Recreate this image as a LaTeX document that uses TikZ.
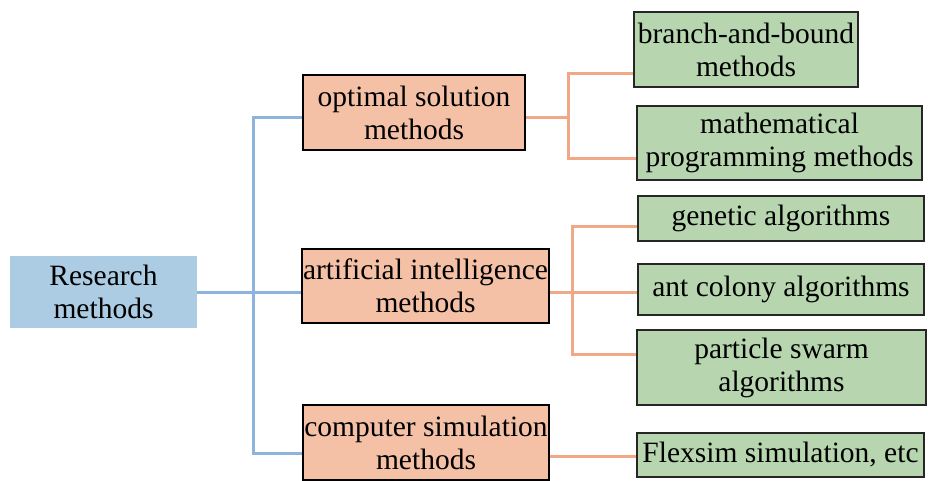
\documentclass[tikz,border=0pt]{standalone}
\usepackage{fontspec}
\setmainfont{Liberation Serif}
\usepackage{tikz}
\usetikzlibrary{positioning}
\definecolor{rmblue}{RGB}{172,204,228}
\definecolor{rmline}{RGB}{140,180,220}
\definecolor{midfill}{RGB}{244,193,166}
\definecolor{midline}{RGB}{240,168,135}
\definecolor{leaffill}{RGB}{183,214,176}
\tikzstyle{rootbox}=[fill=rmblue,inner sep=0pt,align=center]
\tikzstyle{midbox}=[draw=black,fill=midfill,line width=1.3pt,inner sep=0pt,align=center]
\tikzstyle{leafbox}=[draw=black!85,fill=leaffill,line width=1.3pt,inner sep=0pt,align=center]
\tikzstyle{bline}=[draw=rmline,line width=3pt]
\tikzstyle{oline}=[draw=midline,line width=3pt]

\begin{document}
\begin{tikzpicture}[x=1pt,y=-1pt,font=\fontsize{29.5}{33}\selectfont]
\clip (0,0) rectangle (928,480);

\node[rootbox,minimum width=187pt,minimum height=72pt] (rm) at (103.5,292) {Research\\methods};
\node[midbox,minimum width=222pt,minimum height=75pt] (opt) at (414,112.5) {optimal solution\\methods};
\node[midbox,minimum width=247pt,minimum height=74pt] (ai) at (425.5,286) {artificial intelligence\\methods};
\node[midbox,minimum width=246pt,minimum height=75pt] (sim) at (426,442.5) {computer simulation\\methods};
\node[leafbox,minimum width=224pt,minimum height=75pt] (bb) at (746,49.5) {branch-and-bound\\methods};
\node[leafbox,minimum width=285pt,minimum height=74pt] (mp) at (779.5,143) {mathematical\\programming methods};
\node[leafbox,minimum width=286pt,minimum height=45pt] (ga) at (781,218.5) {genetic algorithms};
\node[leafbox,minimum width=286pt,minimum height=51pt] (ac) at (781,289.5) {ant colony algorithms};
\node[leafbox,minimum width=289pt,minimum height=75pt] (ps) at (781.5,367.5) {particle swarm\\algorithms};
\node[leafbox,minimum width=287pt,minimum height=44pt] (fx) at (780.5,455) {Flexsim simulation, etc};

\coordinate (bj) at (253,292);
\draw[bline] (rm.east |- bj) -- (ai.west |- bj);
\draw[bline] (opt.west |- 0,117) -| (bj |- 0,453) -- (sim.west |- 0,453);

\coordinate (ob) at (568,117);
\draw[oline] (opt.east |- ob) -- (ob);
\draw[oline] (bb.west |- 0,73) -| (ob |- 0,158) -- (mp.west |- 0,158);

\coordinate (aj) at (572,292);
\draw[oline] (ai.east |- aj) -- (ac.west |- aj);
\draw[oline] (ga.west |- 0,226) -| (aj |- 0,354) -- (ps.west |- 0,354);

\draw[oline] (sim.east |- 0,456) -- (fx.west |- 0,456);
\end{tikzpicture}
\end{document}
